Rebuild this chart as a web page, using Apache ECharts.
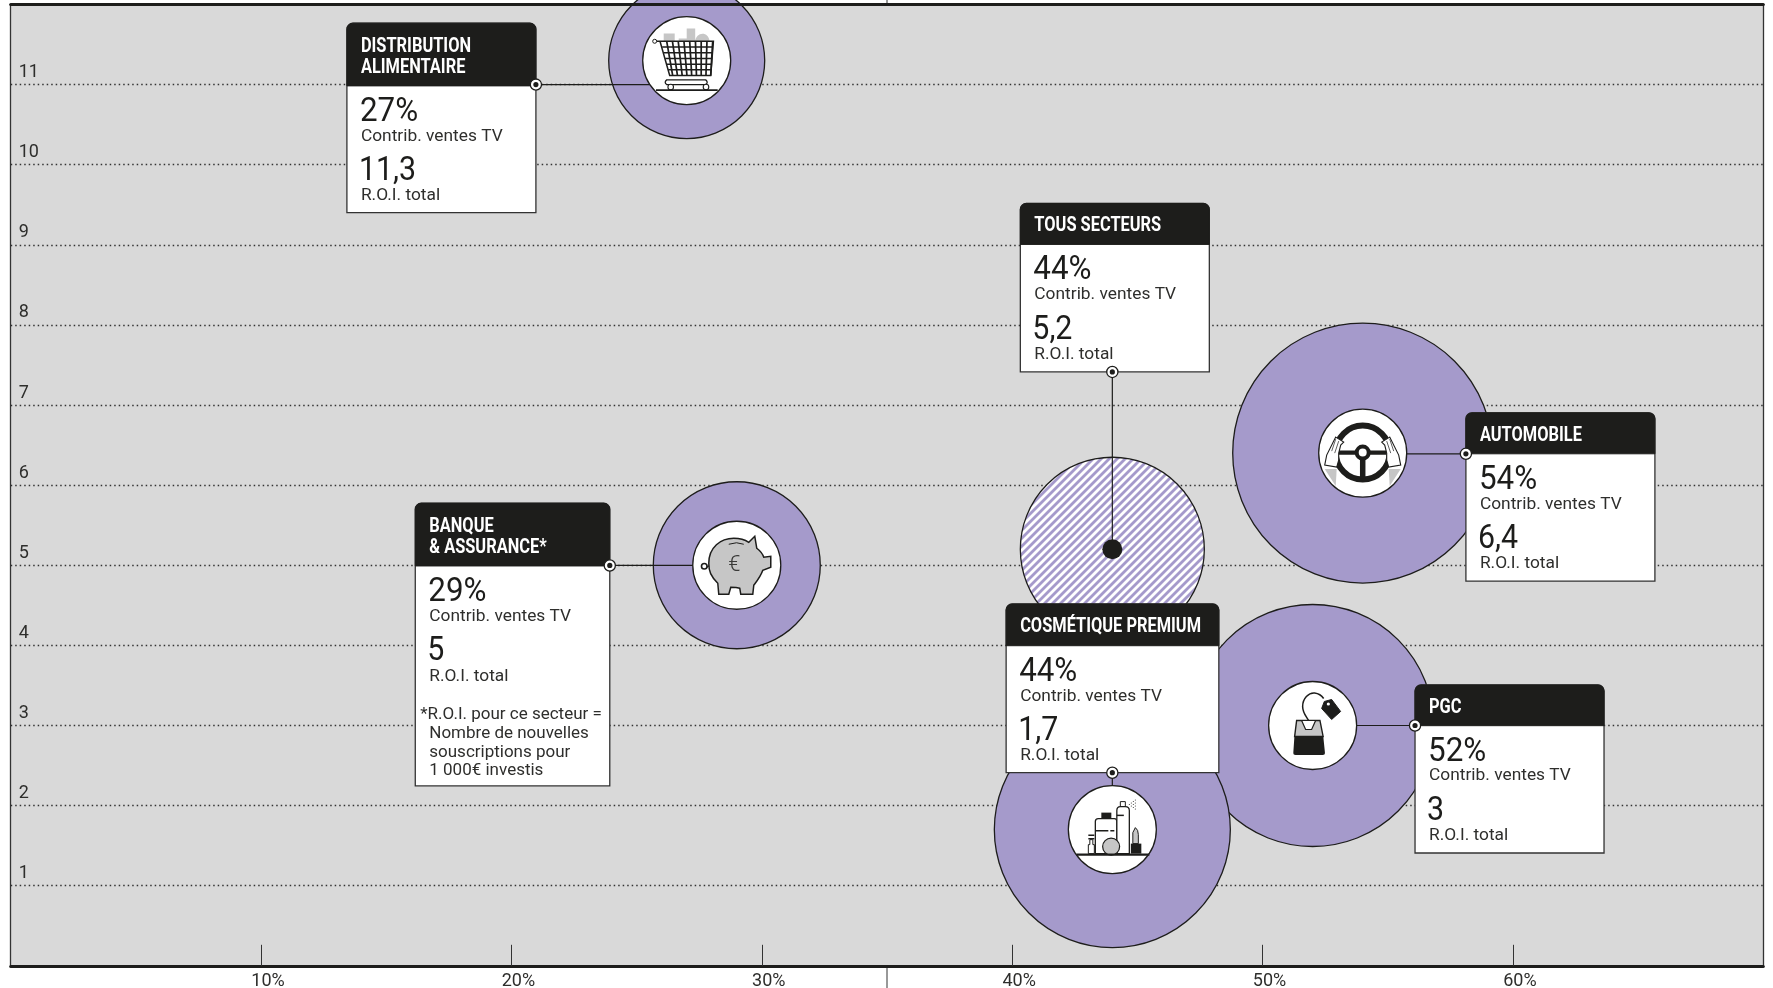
<!DOCTYPE html>
<html>
<head>
<meta charset="utf-8">
<style>html,body{margin:0;padding:0;background:#fff}#c{width:1773px;height:988px}</style>
<script src="https://cdn.jsdelivr.net/npm/echarts@6/dist/echarts.min.js"></script>
</head>
<body>
<div id="c"></div>
<script>
// ---- data ----
const sectorKeys = ['distribution', 'banque', 'tous', 'pgc', 'cosmetique', 'auto'];
const sectorTitles = [['DISTRIBUTION', 'ALIMENTAIRE'], ['BANQUE', '& ASSURANCE*'], ['TOUS SECTEURS'], ['PGC'], ['COSMÉTIQUE PREMIUM'], ['AUTOMOBILE']];
const contributions = [27, 29, 44, 52, 44, 54];
const rois = [11.3, 5, 5.2, 3, 1.7, 6.4];
const bubbleDiameters = [156, 167, 184, 242, 236, 260];
const xTickValues = [10, 20, 30, 40, 50, 60];
const yTickValues = [1, 2, 3, 4, 5, 6, 7, 8, 9, 10, 11];
const contribLabel = 'Contrib. ventes TV';
const roiLabel = 'R.O.I. total';
const footnoteLines = ['*R.O.I. pour ce secteur =', 'Nombre de nouvelles', 'souscriptions pour', '1 000€ investis'];

// ---- style & card layout (pixels relative to each data point) ----
const INK = '#1d1d1b', TXT = '#2e2e2c', PURPLE = '#a59acb', GREY = '#c6c6c6', INNER_R = 44;
const SANS = 'Roboto,sans-serif';
const cardLayout = {
  distribution: {dx: -339.8, dy: -37.4, w: 189, h: 189.4, head: 62.7, mx: 189, my: 61.4, link: 'h'},
  banque:       {dx: -321.5, dy: -62,   w: 194.5, h: 282.7, head: 62.7, mx: 194.5, my: 62.2, link: 'h'},
  tous:         {dx: -92,  dy: -345.8,w: 189, h: 168.5, head: 41,   mx: 92,  my: 168.5, link: 'c'},
  pgc:          {dx: 102.4,dy: -40.5, w: 189, h: 168,   head: 40.7, mx: 0,   my: 40.5, link: 'h'},
  cosmetique:   {dx: -106.2,dy: -225.6,w: 212.7,h: 168.7,head: 41.7,mx: 106.2,my: 168.7, link: 'v'},
  auto:         {dx: 103.2,dy: -40.3, w: 189, h: 168.3, head: 41,   mx: 0,   my: 41, link: 'h'}
};

function p(d, fill, stroke, lw) {
  return {type: 'path', shape: {pathData: d}, style: {fill: fill || 'none', stroke: stroke || 'none', lineWidth: lw || 1}};
}
function t(str, x, baseline, size, color, weight, scaleX, lift) {
  return {type: 'text', x: x, y: baseline - (lift || 0.35) * size, scaleX: scaleX || 1,
    style: {text: str, fill: color || TXT, font: (weight || 'normal') + ' ' + size + 'px ' + SANS, align: 'left', verticalAlign: 'middle'}};
}
function circ(x, y, r, fill, stroke, lw) {
  return {type: 'circle', shape: {cx: x, cy: y, r: r}, style: {fill: fill || 'none', stroke: stroke || 'none', lineWidth: lw || 1}};
}
function seg(x1, y1, x2, y2, color, lw) {
  return {type: 'line', shape: {x1: x1, y1: y1, x2: x2, y2: y2}, style: {stroke: color || INK, lineWidth: lw || 1}};
}

// ---- icons, drawn around the centre of the white disc ----
function cartIcon() {
  const out = [p('M-23,-19 L-23,-27 L-12,-27 L-12,-19 Z M-8,-19 L-8,-22 L0,-22 L0,-19 Z M0,-19 L0,-32 L8.5,-32 L8.5,-19 Z M8.5,-19 C9,-29 22,-30 23,-19 Z', GREY)];
  for (let i = 0; i < 9; i++) {
    const u = i / 8;
    out.push(seg(-20 + 46 * u, -19.3, -14 + 38 * u, 15, INK, 1.7));
  }
  for (let j = 1; j < 6; j++) {
    const v = j / 6;
    out.push(seg(-26 + 9 * v, -19.3 + 34.3 * v, 26.7 - 2.7 * v, -19.3 + 34.3 * v, INK, 1.5));
  }
  out.push(p('M-32,-19.3 L26.7,-19.3 L24,15 L-17,15 L-26.7,-19.3', 'none', INK, 1.5));
  out.push(circ(-32, -19.3, 2, '#fff', INK, 1));
  out.push(p('M-20,19.3 L19,19.3 Q22,21.7 19,24 L-20,24 Q-23,21.7 -20,19.3 Z', '#fff', INK, 1.3));
  out.push(circ(-16, 26.5, 2.8, '#fff', INK, 1.1), circ(19.3, 26.5, 2.8, '#fff', INK, 1.1));
  out.push(seg(-30.7, 29.5, 31, 29.5, INK, 1.6));
  return out;
}
function piggyIcon() {
  return [
    circ(-32.5, 1, 2.8, 'none', INK, 1.6),
    seg(-30, 2, -27, 0, INK, 1.3),
    p('M-19,18 C-26,11 -28,6 -28,-2 C-28,-18 -16,-27 -3,-27 C4,-27 9,-25 12,-23 L18,-29 L20,-17 C24,-14 26,-11 27,-8 L34,-9 L34,2 L26,5 C24,11 20,16 17,20 L16,29 L4,29 L3,23 C0,22 -4,22 -6,22 L-8,29 L-18,29 Z', GREY, INK, 1.5),
    p('M-8,-21 Q0,-24 7,-21', 'none', INK, 1),
    t('€', -8.5, 7.5, 22, '#3a3a38', '300')
  ];
}
function wheelIcon() {
  const hand = s => {
    const f = (x, y) => (s * x) + ',' + y;
    return [
      p('M' + f(-38, 16) + ' L' + f(-26, 16) + ' L' + f(-27, 33) + ' Z', GREY),
      p('M' + f(-27, -16) + ' L' + f(-19, -11) + ' L' + f(-22, -8) + ' L' + f(-24, 0) + ' L' + f(-24, 7) + ' L' + f(-26, 14) + ' L' + f(-38, 12) + ' L' + f(-36, 2) + ' Z', '#fff', INK, 1.1),
      seg(s * -27, -14, s * -31, -2, INK, 0.7),
      seg(s * -24, -12, s * -28, 0, INK, 0.7)
    ];
  };
  return [
    circ(0, -0.5, 27, 'none', INK, 6),
    seg(-24, -0.5, 24, -0.5, INK, 4.2),
    seg(0, 0, 0, 25, INK, 5.5),
    circ(0, -0.5, 6, '#fff', INK, 4)
  ].concat(hand(1), hand(-1));
}
function bagIcon() {
  return [
    p('M-2.7,-2.5 C-6,-9 -10,-12 -10,-19 C-10,-27 -4,-33 2,-32.5 C6,-32 9,-30 11,-27', 'none', INK, 1.5),
    p('M11.7,-24 L19,-26 L28,-14 L19,-6 L9,-17 Z', INK, INK, 1),
    circ(15.7, -21.5, 1.6, '#fff'),
    p('M-16,-5 L7.3,-5 L10.5,11 L-18,11 Z', GREY, INK, 1.4),
    p('M-11,-5 L3,-5 L-1,4 L-7,4 Z', '#fff', INK, 1.2),
    p('M-18.2,10.5 L10.6,10.5 L12.3,27 Q12.5,29.5 10,29.5 L-17,29.5 Q-19.5,29.5 -19.3,27 Z', INK)
  ];
}
function cosmeticIcon() {
  const dots = [];
  for (let i = 0; i < 4; i++) for (let j = 0; j <= i; j++)
    dots.push(circ(17 + i * 2, -25 + (j - i / 2) * 3, 0.5, INK));
  return [
    p('M-24,5 h6 v1.5 h-6 Z M-24,8.5 h6 v1.5 h-6 Z', INK),
    p('M-22.5,10 h3 v5 h1.5 v9 h-6 v-9 h1.5 Z', '#fff', INK, 1),
    p('M-11,-17 h10 v6 h-10 Z', INK),
    p('M-17,-8 Q-17,-11 -14,-11 L2,-11 Q4.5,-11 4.5,-8 L4.5,24 L-17,24 Z', '#fff', INK, 1.3),
    p('M-17,0.5 h13 v1.5 h-13 Z M-2,0.5 h4 v1.5 h-4 Z', INK),
    p('M8,-28 h5 v5 h-5 Z', '#fff', INK, 1),
    p('M4.5,-19 Q4.5,-23 8,-23 L13,-23 Q17,-23 17,-19 L17,24 L4.5,24 Z', '#fff', INK, 1.3),
    p('M4.5,-15 h7 v1.5 h-7 Z', INK),
    circ(-1.2, 17, 8.5, GREY, INK, 1.2),
    p('M20.5,14 L20.5,3 L23,-2 Q26,0 26,5 L26,14 Z', GREY, INK, 1),
    p('M18.5,14 h10.5 v10 h-10.5 Z', INK),
    seg(-36, 25, 37, 25, INK, 2.4)
  ].concat(dots);
}
const iconDrawers = {distribution: cartIcon, banque: piggyIcon, pgc: bagIcon, cosmetique: cosmeticIcon, auto: wheelIcon};

// ---- one card + connector + icon ----
function cardParts(i, cx, cy) {
  const key = sectorKeys[i], L = cardLayout[key];
  const x0 = cx + L.dx, y0 = cy + L.dy, mx = x0 + L.mx, my = y0 + L.my;
  const kids = [];
  if (L.link === 'c') kids.push(seg(mx, my, cx, cy, INK, 1.2));
  else if (L.link === 'v') kids.push(seg(mx, my, mx, cy - INNER_R, INK, 1.2));
  else {
    const off = Math.sqrt(Math.max(0, INNER_R * INNER_R - (my - cy) * (my - cy)));
    kids.push(seg(mx, my, mx > cx ? cx + off : cx - off, my, INK, 1.2));
  }
  if (L.link === 'c') kids.push(circ(cx, cy, 10, INK));
  else kids.push({type: 'group', x: cx, y: cy, children: iconDrawers[key]()});
  kids.push({type: 'rect', shape: {x: x0, y: y0, width: L.w, height: L.h, r: [6, 6, 0, 0]}, style: {fill: '#fff', stroke: '#333', lineWidth: 1.3}});
  kids.push({type: 'rect', shape: {x: x0, y: y0, width: L.w, height: L.head, r: [6, 6, 0, 0]}, style: {fill: INK, stroke: INK, lineWidth: 1}});
  const titleLines = sectorTitles[i];
  titleLines.forEach((s, k) => kids.push(t(s, x0 + 14, y0 + 27.7 + (titleLines.length > 1 ? 1 : 0) + k * 21.4, 20, '#fff', 'bold', 0.82, 0.25)));
  const b = y0 + L.head;
  const numFmt = v => String(v).replace('.', ',');
  kids.push(t(contributions[i] + '%', x0 + 13, b + 35, 33, INK, 'normal', 0.95, 0.25));
  kids.push(t(contribLabel, x0 + 14, b + 56.5, 17, TXT, 'normal', 1.02));
  kids.push(t(numFmt(rois[i]), x0 + 12, b + 94.5, 33, INK, 'normal', 0.92, 0.25));
  kids.push(t(roiLabel, x0 + 14, b + 116.3, 17, TXT, 'normal', 1.02));
  if (key === 'banque') {
    const bases = [718.3, 736.7, 755.7, 774];
    footnoteLines.forEach((s, k) => kids.push(t(s, x0 + (k === 0 ? 5 : 14), y0 + bases[k] - 502.3, 17, TXT, 'normal', 1.0, 0.25)));
  }
  kids.push(circ(mx, my, 5.6, '#fff', INK, 1.3), circ(mx, my, 2.6, INK));
  return kids;
}

// ---- hatched fill for the "all sectors" bubble ----
function hatch() {
  const c = document.createElement('canvas');
  c.width = c.height = 8;
  const g = c.getContext('2d');
  g.fillStyle = '#fff'; g.fillRect(0, 0, 8, 8);
  g.strokeStyle = PURPLE; g.lineWidth = 2.8;
  [[-4, 4, 4, -4], [0, 8, 8, 0], [4, 12, 12, 4]].forEach(s => {
    g.beginPath(); g.moveTo(s[0], s[1]); g.lineTo(s[2], s[3]); g.stroke();
  });
  return c;
}
const hatchedIndex = sectorKeys.indexOf('tous');
const hatchImage = hatch();

const bubbleData = contributions.map((c, i) => ({value: [c, rois[i]], symbolSize: bubbleDiameters[i]})).filter((_, i) => i !== hatchedIndex);
const discData = contributions.map((c, i) => [c, rois[i]]).filter((_, i) => i !== hatchedIndex);

const chart = echarts.init(document.getElementById('c'));
chart.setOption({
  animation: false,
  backgroundColor: '#fff',
  grid: {left: 10.7, right: 9.7, top: 4.5, bottom: 22.2, outerBoundsMode: 'none', show: true, backgroundColor: '#d9d9d9', borderWidth: 0},
  xAxis: [{
    type: 'value', min: 0, max: 70, interval: 10, z: 20,
    axisLine: {show: true, onZero: false, lineStyle: {color: INK, width: 3}},
    axisTick: {show: true, inside: true, length: 21, customValues: xTickValues, lineStyle: {color: '#333', width: 1}},
    axisLabel: {show: true, customValues: xTickValues, formatter: '{value}%', margin: 7, color: TXT, fontFamily: SANS, fontSize: 18, padding: [0, 0, 0, 14]},
    splitLine: {show: false}
  }, {
    type: 'value', position: 'top', min: 0, max: 70, z: 20,
    axisLine: {show: true, onZero: false, lineStyle: {color: INK, width: 3}},
    axisTick: {show: false}, axisLabel: {show: false}, splitLine: {show: false}
  }],
  yAxis: [{
    type: 'value', min: 0, max: 12, interval: 1, z: 1,
    axisLine: {show: true, onZero: false, lineStyle: {color: '#333', width: 1.3}},
    axisTick: {show: false},
    axisLabel: {show: true, inside: true, customValues: yTickValues, margin: 8, color: TXT, fontFamily: SANS, fontSize: 18, verticalAlign: 'bottom', padding: [0, 0, 3, 0]},
    splitLine: {show: true, showMinLine: false, showMaxLine: false, lineStyle: {color: '#333', width: 1.3, type: [1.5, 3]}}
  }, {
    type: 'value', position: 'right', min: 0, max: 12, z: 1,
    axisLine: {show: true, onZero: false, lineStyle: {color: '#333', width: 1.3}},
    axisTick: {show: false}, axisLabel: {show: false}, splitLine: {show: false}
  }],
  series: [
    {type: 'custom', name: 'hatched bubble', z: 2, clip: true, silent: true,
     data: [[contributions[hatchedIndex], rois[hatchedIndex]]],
     encode: {x: 0, y: 1},
     renderItem: (params, api) => {
       const pt = api.coord([api.value(0), api.value(1)]);
       return {type: 'circle', shape: {cx: pt[0], cy: pt[1], r: bubbleDiameters[hatchedIndex] / 2},
         style: {fill: {image: hatchImage, repeat: 'repeat'}, stroke: INK, lineWidth: 1.3}};
     }},
    {type: 'scatter', name: 'bubbles', z: 2, clip: true, silent: true, data: bubbleData,
     itemStyle: {color: PURPLE, opacity: 1, borderColor: INK, borderWidth: 1.3}},
    {type: 'scatter', name: 'discs', z: 3, clip: true, silent: true, symbolSize: INNER_R * 2, data: discData,
     itemStyle: {color: '#fff', opacity: 1, borderColor: INK, borderWidth: 1.3}},
    {type: 'custom', name: 'cards', z: 5, clip: false, silent: true,
     data: contributions.map((c, i) => [c, rois[i]]),
     encode: {x: 0, y: 1},
     renderItem: (params, api) => {
       const pt = api.coord([api.value(0), api.value(1)]);
       return {type: 'group', children: cardParts(params.dataIndex, pt[0], pt[1])};
     }},
    {type: 'custom', name: 'centre tick', z: 6, clip: false, silent: true,
     data: [[35]],
     encode: {x: 0},
     renderItem: (params, api) => {
       const bottom = api.coord([api.value(0), 0]), top = api.coord([api.value(0), 12]);
       return {type: 'group', children: [
         seg(bottom[0], bottom[1], bottom[0], bottom[1] + 23, '#333', 1),
         seg(top[0], top[1], top[0], top[1] - 5, '#333', 1)
       ]};
     }}
  ]
});
</script>
</body>
</html>
